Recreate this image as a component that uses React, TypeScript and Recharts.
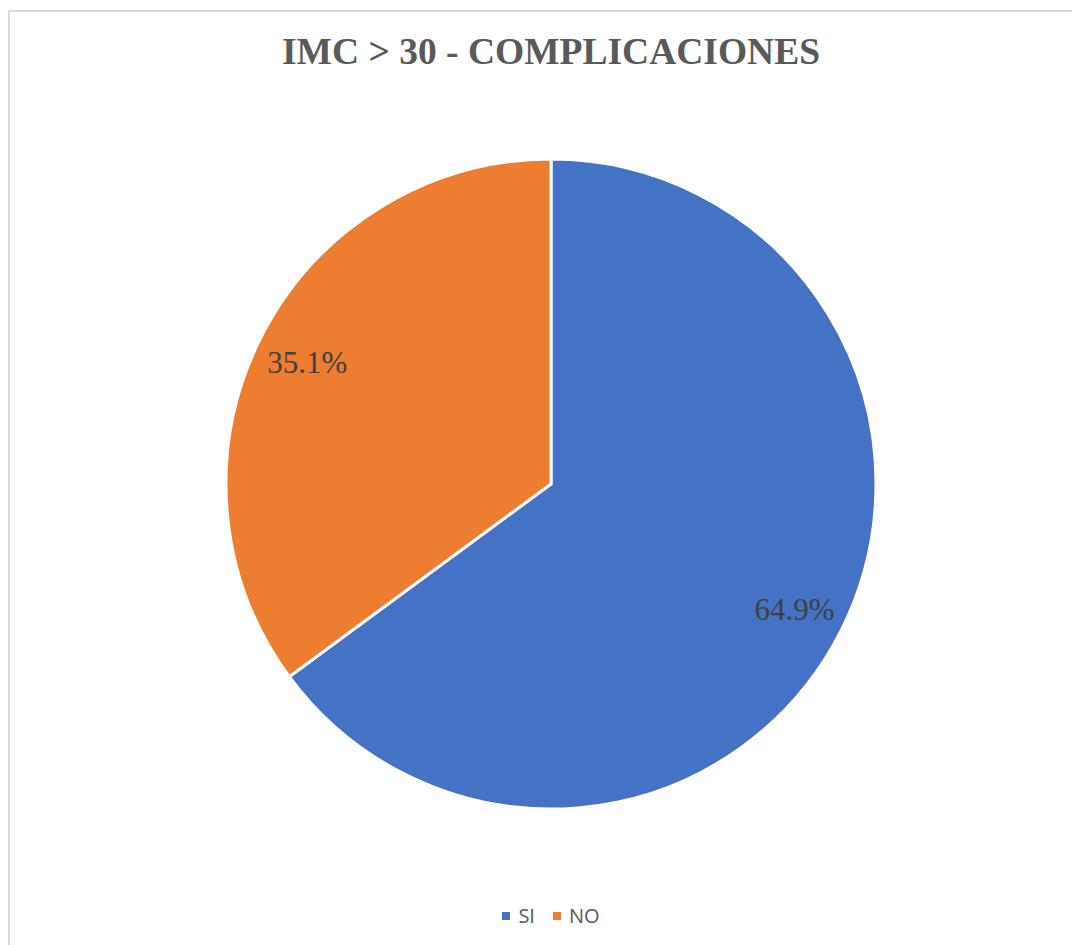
import { PieChart, Pie, Cell, Legend } from 'recharts';

const categories = ['SI', 'NO'];
const values = [64.9, 35.1];
const colors = ['#4472C4', '#ED7D31'];

const RADIAN = Math.PI / 180;

function renderLabel(props: any) {
  const { cx, cy, midAngle, outerRadius, value } = props;
  const r = outerRadius * 0.84;
  const x = cx + r * Math.cos(-midAngle * RADIAN);
  const y = cy + r * Math.sin(-midAngle * RADIAN);
  return (
    <text
      x={x}
      y={y + 2}
      textAnchor="middle"
      dominantBaseline="central"
      fill="#404040"
      fontFamily="'Liberation Serif', 'Times New Roman', serif"
      fontSize={31}
    >
      {`${value.toFixed(1)}%`}
    </text>
  );
}

function renderLegend() {
  return (
    <div style={{ display: 'flex', justifyContent: 'center', gap: 18, paddingLeft: 12, fontFamily: "'Open Sans', 'Liberation Sans', sans-serif", fontSize: 20, color: '#595959' }}>
      {categories.map((c, i) => (
        <span key={c} style={{ display: 'flex', alignItems: 'center' }}>
          <span style={{ width: 8, height: 8, background: colors[i], marginRight: 8, display: 'inline-block' }} />
          {c}
        </span>
      ))}
    </div>
  );
}

export default function App() {
  const data = categories.map((name, i) => ({ name, value: values[i] }));
  return (
    <div style={{ position: 'relative', marginTop: 2, width: 1072, height: 935, borderLeft: '2px solid #d9d9d9', borderTop: '2px solid #d9d9d9', boxSizing: 'border-box', background: '#fff' }}>
      <PieChart width={1070} height={933} margin={{ top: 0, right: 0, bottom: 0, left: 0 }} style={{ position: 'absolute', left: 0, top: 0 }}>
        <text
          x={541}
          y={52}
          textAnchor="middle"
          fill="#595959"
          fontFamily="'Liberation Serif', 'Times New Roman', serif"
          fontWeight="bold"
          fontSize={37.5}
        >
          IMC &gt; 30 - COMPLICACIONES
        </text>
        <Pie
          data={data}
          dataKey="value"
          nameKey="name"
          cx={541}
          cy={472}
          outerRadius={325}
          startAngle={90}
          endAngle={-270}
          stroke="#ffffff"
          strokeWidth={3}
          label={renderLabel}
          labelLine={false}
          isAnimationActive={false}
        >
          {data.map((d, i) => (
            <Cell key={d.name} fill={colors[i]} />
          ))}
        </Pie>
        <Legend content={renderLegend} verticalAlign="bottom" wrapperStyle={{ bottom: 16 }} />
      </PieChart>
    </div>
  );
}
